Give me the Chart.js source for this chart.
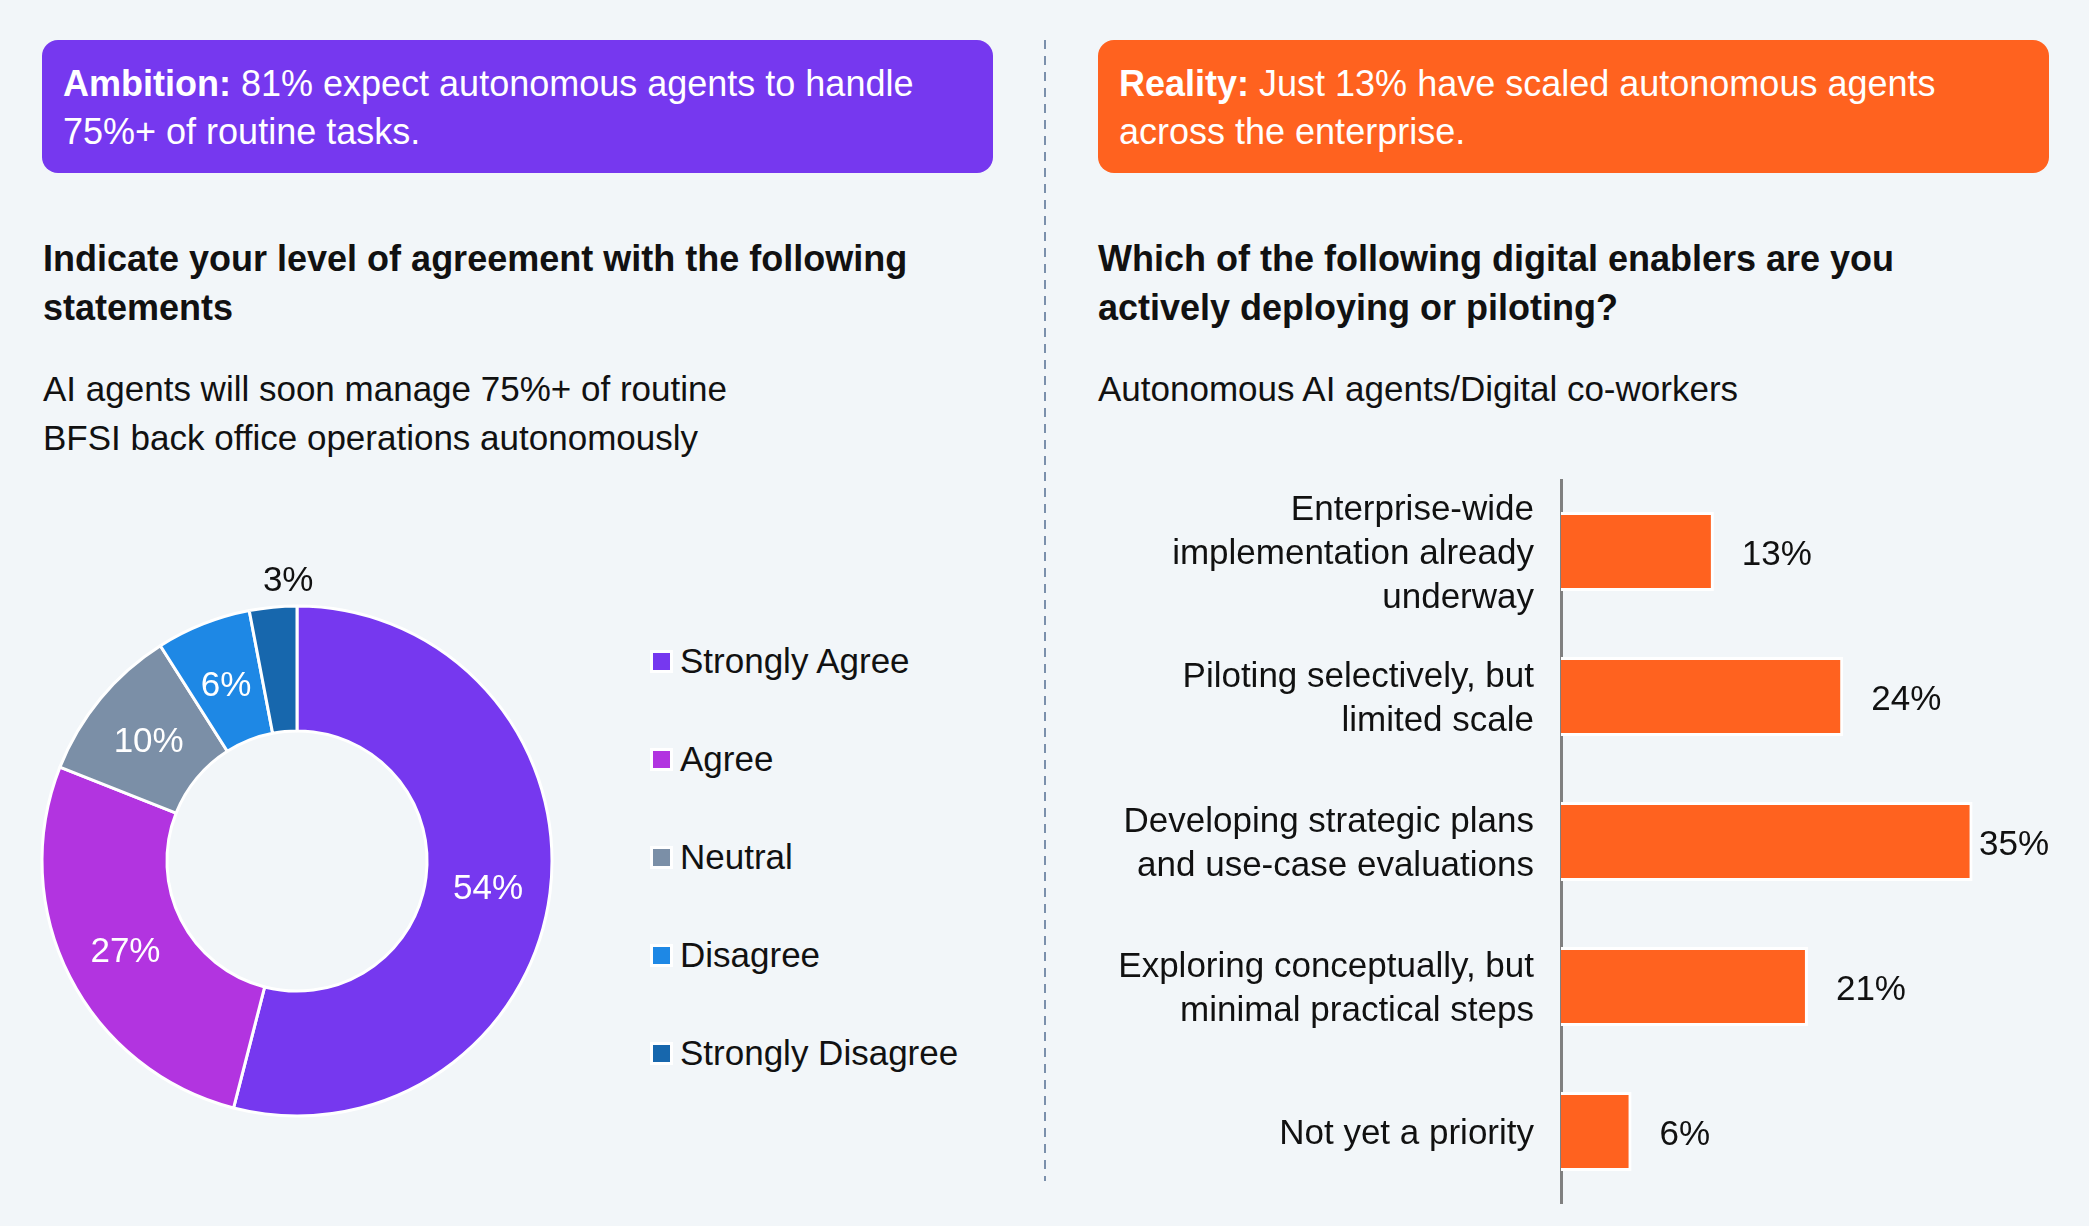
<!DOCTYPE html>
<html>
<head>
<meta charset="utf-8">
<script src="https://cdn.jsdelivr.net/npm/chart.js"></script>
<style>
  html, body { margin: 0; padding: 0; }
  body {
    width: 2089px; height: 1226px; position: relative; overflow: hidden;
    background: #f2f6f9; font-family: 'Liberation Sans', Arial, sans-serif; color: #111;
  }
  .box {
    position: absolute; top: 40px; width: 951px; height: 133px; box-sizing: border-box;
    border-radius: 16px; color: #fff; font-size: 36px; line-height: 48px;
    padding: 20px 20px 0 21px;
  }
  .box b { font-weight: bold; }
  .heading { position: absolute; top: 233.5px; font-size: 36px; line-height: 49px; font-weight: bold; }
  .sub { position: absolute; top: 364px; font-size: 35px; line-height: 49px; }
  .divider {
    position: absolute; left: 1044px; top: 40px; width: 2px; height: 1141px;
    background: repeating-linear-gradient(to bottom, #7b90ac 0 9px, transparent 9px 16px);
  }
  #legend { position: absolute; left: 650px; top: 612px; }
  #legend .row { height: 98px; display: flex; align-items: center; font-size: 35px; }
  #legend .sw { width: 17px; height: 17px; border: 3px solid #fff; margin-right: 7px; }
  #donutWrap { position: absolute; left: 0; top: 540px; width: 640px; height: 640px; }
  #barWrap { position: absolute; left: 1098px; top: 479px; width: 951px; height: 725px; }
</style>
</head>
<body>
<div class="box" style="left:42px; background:#7638ef;"><b>Ambition:</b> 81% expect autonomous agents to handle<br>75%+ of routine tasks.</div>
<div class="box" style="left:1098px; background:#ff621f;"><b>Reality:</b> Just 13% have scaled autonomous agents<br>across the enterprise.</div>
<div class="divider"></div>

<div class="heading" style="left:43px;">Indicate your level of agreement with the following<br>statements</div>
<div class="sub" style="left:43px;">AI agents will soon manage 75%+ of routine<br>BFSI back office operations autonomously</div>

<div class="heading" style="left:1098px;">Which of the following digital enablers are you<br>actively deploying or piloting?</div>
<div class="sub" style="left:1098px;">Autonomous AI agents/Digital co-workers</div>

<div id="donutWrap"><canvas id="donut"></canvas></div>
<div id="legend"></div>
<div id="barWrap"><canvas id="bars"></canvas></div>

<script>
// agreement question (doughnut)
const agreeLabels = ['Strongly Agree', 'Agree', 'Neutral', 'Disagree', 'Strongly Disagree'];
const agreeValues = [54, 27, 10, 6, 3];
const agreeColors = ['#7638ef', '#b234e0', '#7b8fa7', '#1e88e5', '#1767ad'];

// digital enablers (horizontal bars)
const enablerLabels = [
  ['Enterprise-wide', 'implementation already', 'underway'],
  ['Piloting selectively, but', 'limited scale'],
  ['Developing strategic plans', 'and use-case evaluations'],
  ['Exploring conceptually, but', 'minimal practical steps'],
  'Not yet a priority'
];
const enablerValues = [13, 24, 35, 21, 6];
const barColor = '#ff621f';

Chart.defaults.font.family = "'Liberation Sans', Arial, sans-serif";
Chart.defaults.color = '#111';

// legend for the doughnut
const legend = document.getElementById('legend');
for (let i = 0; i < agreeLabels.length; i++) {
  const row = document.createElement('div');
  row.className = 'row';
  row.innerHTML = '<div class="sw" style="background:' + agreeColors[i] + '"></div>' + agreeLabels[i];
  legend.appendChild(row);
}

const donutLabels = {
  id: 'donutLabels',
  afterDatasetsDraw(chart) {
    const ctx = chart.ctx;
    const meta = chart.getDatasetMeta(0);
    ctx.save();
    ctx.font = '35px "Liberation Sans", Arial, sans-serif';
    ctx.textAlign = 'center';
    ctx.textBaseline = 'middle';
    meta.data.forEach(function(arc, i) {
      const v = agreeValues[i];
      const a = (arc.startAngle + arc.endAngle) / 2;
      let r, col, dx = 0;
      if (v < 5) {
        r = arc.outerRadius + 30; col = '#111'; dx = 18;
      } else {
        r = (arc.innerRadius + arc.outerRadius) / 2; col = '#fff';
      }
      ctx.fillStyle = col;
      ctx.fillText(v + '%', arc.x + r * Math.cos(a) + dx, arc.y + r * Math.sin(a) + 4);
    });
    ctx.restore();
  }
};

new Chart(document.getElementById('donut'), {
  type: 'doughnut',
  data: {
    labels: agreeLabels,
    datasets: [{
      data: agreeValues,
      backgroundColor: agreeColors,
      borderColor: '#fff',
      borderWidth: 3
    }]
  },
  options: {
    responsive: true,
    maintainAspectRatio: false,
    animation: false,
    cutout: '51%',
    layout: { padding: { left: 40.5, top: 64.5, right: 86.5, bottom: 62.5 } },
    plugins: { legend: { display: false }, tooltip: { enabled: false } }
  },
  plugins: [donutLabels]
});

const barValueLabels = {
  id: 'barValueLabels',
  afterDatasetsDraw(chart) {
    const ctx = chart.ctx;
    const meta = chart.getDatasetMeta(0);
    ctx.save();
    ctx.font = '35px "Liberation Sans", Arial, sans-serif';
    ctx.fillStyle = '#111';
    ctx.textAlign = 'left';
    ctx.textBaseline = 'middle';
    meta.data.forEach(function(bar, i) {
      const txt = enablerValues[i] + '%';
      const w = ctx.measureText(txt).width;
      const x = Math.min(bar.x + 28, chart.width - w);
      ctx.fillText(txt, x, bar.y + 4);
    });
    ctx.restore();
  }
};

new Chart(document.getElementById('bars'), {
  type: 'bar',
  data: {
    labels: enablerLabels,
    datasets: [{
      data: enablerValues,
      backgroundColor: barColor,
      borderColor: '#fff',
      borderWidth: 3,
      categoryPercentage: 1,
      barPercentage: 0.545
    }]
  },
  options: {
    indexAxis: 'y',
    responsive: true,
    maintainAspectRatio: false,
    animation: false,
    layout: { padding: 0 },
    scales: {
      x: { display: false, min: 0, max: 41.5 },
      y: {
        grid: { display: false, drawTicks: false },
        border: { display: true, color: '#808080', width: 3 },
        ticks: {
          padding: 27,
          labelOffset: 3,
          color: '#111',
          font: { size: 35, lineHeight: 1.257 }
        },
        afterFit(scale) {
          scale.width = 463;
          scale.paddingTop = 0;
          scale.paddingBottom = 0;
        }
      }
    },
    plugins: { legend: { display: false }, tooltip: { enabled: false } }
  },
  plugins: [barValueLabels]
});
</script>
</body>
</html>
